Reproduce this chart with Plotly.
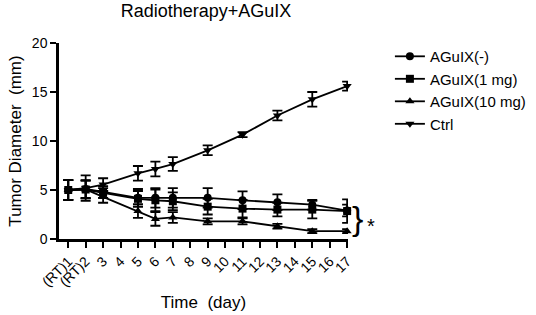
import plotly.graph_objects as go

days = [1, 2, 3, 5, 6, 7, 9, 11, 13, 15, 17]
tick_vals = list(range(1, 18))
tick_text = ["(RT)1", "(RT)2"] + [str(d) for d in range(3, 18)]

aguix_neg = [5.0, 5.1, 4.8, 4.2, 4.2, 4.2, 4.2, 3.95, 3.75, 3.5, 2.9]
aguix_neg_err = [1.0, 0.9, 0.6, 0.9, 1.0, 1.0, 1.0, 0.9, 0.8, 0.5, 0.6]
aguix_1 = [5.0, 5.05, 4.7, 4.1, 3.95, 3.85, 3.3, 3.1, 3.0, 3.0, 2.85]
aguix_1_err = [1.0, 0.9, 0.5, 0.8, 1.1, 0.9, 0.8, 0.9, 0.7, 0.9, 1.2]
aguix_10 = [5.0, 5.05, 4.3, 2.85, 2.05, 2.2, 1.8, 1.8, 1.3, 0.8, 0.8]
aguix_10_err = [1.0, 0.9, 0.6, 0.7, 0.7, 0.55, 0.3, 0.3, 0.25, 0.2, 0.2]
ctrl = [5.0, 5.2, 5.55, 6.7, 7.15, 7.65, 9.05, 10.65, 12.6, 14.25, 15.6]
ctrl_err = [1.0, 1.3, 0.65, 0.75, 0.75, 0.7, 0.5, 0.25, 0.5, 0.75, 0.45]

series = [
    ("AGuIX(-)", aguix_neg, aguix_neg_err, "circle"),
    ("AGuIX(1 mg)", aguix_1, aguix_1_err, "square"),
    ("AGuIX(10 mg)", aguix_10, aguix_10_err, "triangle-up"),
    ("Ctrl", ctrl, ctrl_err, "triangle-down"),
]

FONT = "Liberation Sans, Arial"

fig = go.Figure()
for name, vals, errs, sym in series:
    fig.add_trace(go.Scatter(
        x=days, y=vals, name=name, mode="lines+markers",
        line=dict(color="black", width=1.8),
        marker=dict(symbol=sym, size=8, color="black"),
        error_y=dict(type="data", array=errs, color="black", thickness=1.8, width=5),
        cliponaxis=False,
    ))

fig.add_annotation(x=1.033, y=0.105, xref="paper", yref="paper", text="}",
                   xanchor="center", yanchor="middle",
                   showarrow=False, font=dict(size=34, color="black", family=FONT))
fig.add_annotation(x=1.078, y=0.065, xref="paper", yref="paper", text="*",
                   xanchor="center", yanchor="middle",
                   showarrow=False, font=dict(size=20, color="black", family=FONT))

fig.update_layout(
    width=536, height=315,
    margin=dict(l=59, r=188, t=43, b=76, autoexpand=False),
    paper_bgcolor="white", plot_bgcolor="white",
    font=dict(family=FONT, color="black", size=14),
    title=dict(text="Radiotherapy+AGuIX", x=206 / 536, xanchor="center", y=1 - 11 / 315, yanchor="middle",
               font=dict(size=18)),
    showlegend=True,
    legend=dict(x=1.145, y=1.015, xanchor="left", yanchor="top", font=dict(size=15),
                bgcolor="rgba(0,0,0,0)"),
    xaxis=dict(range=[0.47, 17.05], tickvals=tick_vals, ticktext=tick_text, tickangle=-45,
               showgrid=False, zeroline=False, showline=True, linecolor="black", linewidth=2.5,
               ticks="outside", ticklen=6, tickwidth=2, tickcolor="black",
               tickfont=dict(size=14),
               title=dict(text="Time  (day)", font=dict(size=17), standoff=8)),
    yaxis=dict(range=[0, 20], tickvals=[0, 5, 10, 15, 20],
               showgrid=False, zeroline=False, showline=True, linecolor="black", linewidth=2.5,
               ticks="outside", ticklen=6, tickwidth=2, tickcolor="black",
               tickfont=dict(size=14),
               title=dict(text="Tumor Diameter  (mm)", font=dict(size=17), standoff=6)),
)

fig.write_html("out.html", config={"displayModeBar": False},
               post_script="document.body.style.margin='0px';")
